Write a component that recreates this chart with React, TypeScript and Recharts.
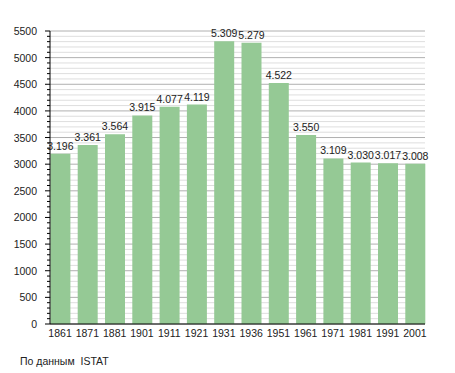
import React from 'react';
import { BarChart, Bar, XAxis, YAxis, CartesianGrid, LabelList } from 'recharts';

const years = ['1861', '1871', '1881', '1901', '1911', '1921', '1931', '1936', '1951', '1961', '1971', '1981', '1991', '2001'];
const population = [3196, 3361, 3564, 3915, 4077, 4119, 5309, 5279, 4522, 3550, 3109, 3030, 3017, 3008];
const yTicks = Array.from({ length: 56 }, (_, i) => i * 100);
const majorTicks = yTicks.filter(v => v % 500 === 0);
const minorTicks = yTicks.filter(v => v % 500 !== 0);

const data = years.map((year, i) => ({ year, value: population[i] }));

const FONT = '"Liberation Sans", Arial, sans-serif';

const fmt = (v: any) => {
  const n = Number(v);
  const rest = String(n % 1000).padStart(3, '0');
  return `${Math.floor(n / 1000)}.${rest}`;
};

// y axis tick: label only every 500, short tick every 100
const YTick = (props: any) => {
  const { x, y, payload } = props;
  const major = payload.value % 500 === 0;
  const ax = x + 8; // axis line position
  return (
    <g>
      <line x1={ax - (major ? 5 : 3)} x2={ax} y1={y} y2={y} stroke="#000" strokeWidth={1} />
      {major && (
        <text x={ax - 13} y={y} dy={4} textAnchor="end" fontSize={10.5} fill="#222" fontFamily={FONT}>
          {payload.value}
        </text>
      )}
    </g>
  );
};

export default function App() {
  return (
    <div style={{ position: 'absolute', left: 0, top: 0, width: 455, height: 373, background: '#fff' }}>
      <BarChart width={455} height={373} data={data} margin={{ top: 31, right: 30, bottom: 29, left: 0 }}>
        <CartesianGrid vertical={false} horizontalValues={minorTicks} stroke="#dedede" strokeWidth={1} />
        <CartesianGrid vertical={false} horizontalValues={majorTicks} stroke="#b0b0b0" strokeWidth={1} />
        <XAxis
          dataKey="year"
          height={20}
          padding={{ left: -3.6, right: -3.6 }}
          tickLine={false}
          axisLine={{ stroke: '#000', strokeWidth: 1 }}
          tick={{ fontSize: 10.5, fill: '#222', fontFamily: FONT }}
          tickMargin={0}
          interval={0}
        />
        <YAxis
          width={50}
          domain={[0, 5500]}
          ticks={yTicks}
          interval={0}
          tickLine={false}
          axisLine={{ stroke: '#000', strokeWidth: 1 }}
          tick={<YTick />}
        />
        <Bar dataKey="value" fill="#95c995" barSize={20} isAnimationActive={false}>
          <LabelList dataKey="value" position="top" formatter={fmt} fontSize={10.5} fill="#222" fontFamily={FONT} offset={4} />
        </Bar>
      </BarChart>
      <div style={{ position: 'absolute', left: 20, top: 355, fontSize: 10.5, fontFamily: FONT, color: '#222' }}>
        По данным&nbsp; ISTAT
      </div>
    </div>
  );
}
